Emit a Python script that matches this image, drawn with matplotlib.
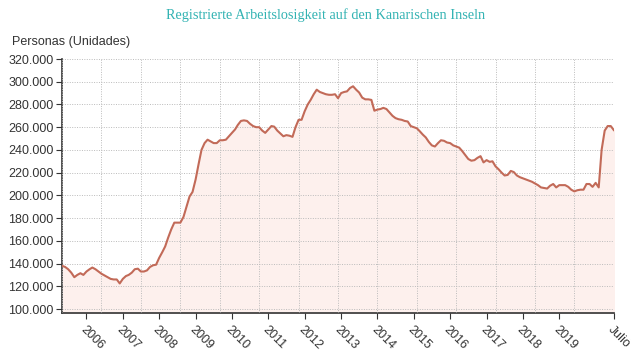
import numpy as np
import pandas as pd
import matplotlib
matplotlib.use("Agg")
import matplotlib.pyplot as plt
import matplotlib.dates as mdates
from matplotlib.ticker import FuncFormatter, FixedLocator

# paro registrado Canarias, miles de personas, mensual desde mayo 2005 hasta julio 2020
start = "2005-05-01"
paro_miles = [
    138, 137, 135, 132, 128, 130, 131.5, 130, 133, 135, 136.5, 135,
    133, 131, 129.5, 128, 126.5, 126, 126, 122.5, 126.5, 129, 130, 132,
    135, 135.5, 133, 133, 134, 137, 138.5, 139, 145, 150, 155, 163,
    170, 176, 176, 176, 181, 190, 199, 203, 214, 228, 240, 246,
    249, 247.5, 246, 246, 248.5, 248.5, 249, 252, 255, 258, 262, 265.5,
    266, 265.5, 263, 261, 260, 260, 257, 255, 258, 261, 260.5, 257,
    254.5, 252, 253, 252.5, 251.5, 260, 266.5, 266.5, 274, 280, 284, 289,
    293, 291, 290, 289, 288.5, 288.5, 289, 285.5, 290, 291, 291.5, 294.5,
    296, 293, 290.5, 286, 284.5, 284.5, 284, 274.5, 275.5, 276, 277, 276,
    273, 270, 268, 267, 266.5, 265.5, 265, 261, 260, 259, 256.5, 253.5,
    251, 247, 244, 243, 246, 248.5, 248, 246.5, 246, 244, 243, 242,
    239, 235.5, 232, 230.5, 231, 233, 234.5, 229, 231, 229.5, 230, 225.5,
    223, 220, 217.5, 218, 221.5, 220.5, 217.5, 216, 215, 214, 213, 212,
    210.5, 209, 207, 206.5, 206, 208.5, 210, 207, 209, 209, 209, 207.5,
    205, 203.5, 204.5, 205, 205, 210, 210, 207.5, 211, 207, 240, 257,
    261, 261, 257.5,
]
years = list(range(2006, 2020))
y_ticks = list(range(100000, 320001, 20000))

fechas = pd.date_range(start, periods=len(paro_miles), freq="MS")
paro = np.array(paro_miles) * 1000

plt.rcParams["font.family"] = ["Liberation Sans", "DejaVu Sans"]

fig = plt.figure(figsize=(6.4, 3.6), dpi=100)
ax = fig.add_axes([0.097, 0.1306, 0.862, 0.7055])

line_color = "#c26a58"
ax.fill_between(fechas, paro, 0, color="#fdf0ed", zorder=1)
ax.plot(fechas, paro, color=line_color, lw=1.5, zorder=3)

x0, x1 = mdates.date2num(fechas[0]), mdates.date2num(fechas[-1])
ax.set_xlim(x0, x1)
ax.set_ylim(96500, 320000)

# eje y
ax.set_yticks(y_ticks)
ax.yaxis.set_major_formatter(FuncFormatter(lambda v, p: f"{v:,.0f}".replace(",", ".")))

# eje x: marcas en cada año + "Julio" al final, rejilla repartida en 14 tramos
xt = [mdates.date2num(pd.Timestamp(f"{y}-01-01")) for y in years] + [x1]
ax.xaxis.set_major_locator(FixedLocator(xt))
ax.set_xticklabels([str(y) for y in years] + ["Julio"])
ax.xaxis.set_minor_locator(FixedLocator(np.linspace(x0, x1, 15)))

for lab in ax.get_xticklabels():
    lab.set_rotation(-45)
    lab.set_ha("left")
    lab.set_va("top")
    lab.set_rotation_mode("anchor")

ax.tick_params(axis="x", which="major", length=4, width=0.8, color="#333333",
               labelsize=9, labelcolor="#333333", pad=4)
ax.tick_params(axis="x", which="minor", length=0)
ax.tick_params(axis="y", length=4, width=0.8, color="#333333",
               labelsize=9, labelcolor="#333333", pad=2)

ax.grid(False)
ax.xaxis.grid(True, which="minor", color="#bbbbbb", ls=(0, (1, 1.5)), lw=0.7, zorder=2)
ax.yaxis.grid(True, which="major", color="#bbbbbb", ls=(0, (1, 1.5)), lw=0.7, zorder=2)
ax.set_axisbelow(False)

for s in ["top", "right"]:
    ax.spines[s].set_visible(False)
for s in ["left", "bottom"]:
    ax.spines[s].set_color("#333333")
    ax.spines[s].set_linewidth(1.2)

fig.text(0.508, 0.957, "Registrierte Arbeitslosigkeit auf den Kanarischen Inseln",
         ha="center", va="center", fontsize=10.3, color="#33b3b3",
         family=["Liberation Serif", "DejaVu Serif"])
fig.text(0.019, 0.883, "Personas (Unidades)", ha="left", va="center",
         fontsize=9, color="#333333")

fig.savefig("out.png", dpi=100)
